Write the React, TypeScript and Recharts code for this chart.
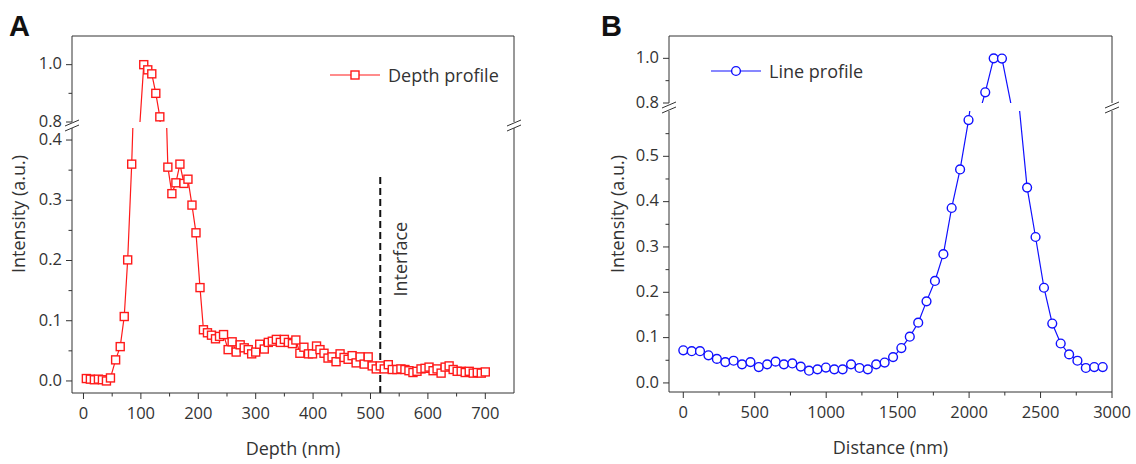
import React from "react";
import { LineChart, Line, XAxis, YAxis, ReferenceLine, Legend } from "recharts";

// Panel A: depth profile
const depthNm = [
  5, 12, 19, 26, 33, 40, 47, 56, 64, 71, 77, 84, 105, 112, 119, 126, 133, 147,
  154, 161, 168, 175, 182, 189, 196, 203, 209, 216, 223, 230, 237, 244, 252,
  259, 266, 273, 280, 287, 293, 300, 307, 315, 322, 329, 336, 343, 350, 357,
  364, 370, 377, 384, 392, 399, 406, 412, 419, 426, 433, 440, 447, 454, 461,
  468, 475, 482, 489, 496, 503, 510, 517, 524, 531, 538, 546, 553, 560, 567,
  574, 581, 588, 595, 602, 609, 616, 623, 630, 637, 644, 651, 658, 665, 672,
  679, 686, 693, 700,
];
const depthIntensity = [
  0.004, 0.003, 0.002, 0.003, 0.002, 0.0, 0.005, 0.035, 0.057, 0.107, 0.201,
  0.36, 1.0, 0.982, 0.968, 0.9, 0.818, 0.355, 0.311, 0.329, 0.36, 0.328, 0.335,
  0.292, 0.246, 0.155, 0.085, 0.08, 0.076, 0.07, 0.074, 0.077, 0.052, 0.065,
  0.048, 0.06, 0.055, 0.052, 0.045, 0.048, 0.061, 0.053, 0.064, 0.066, 0.069,
  0.064, 0.069, 0.064, 0.062, 0.068, 0.046, 0.056, 0.045, 0.045, 0.058, 0.052,
  0.046, 0.038, 0.04, 0.032, 0.045, 0.039, 0.036, 0.042, 0.03, 0.04, 0.028,
  0.04, 0.025, 0.02, 0.025, 0.02, 0.027, 0.019, 0.019, 0.02, 0.019, 0.017,
  0.014, 0.016, 0.02, 0.021, 0.023, 0.017, 0.02, 0.013, 0.023, 0.025, 0.019,
  0.016, 0.016, 0.014, 0.016, 0.013, 0.014, 0.013, 0.015,
];
const interfaceDepth = 517;

// Panel B: line profile
const distanceNm = [
  0, 59, 117, 176, 235, 294, 352, 411, 470, 528, 587, 646, 704, 763, 822, 880,
  939, 998, 1057, 1115, 1174, 1233, 1291, 1350, 1409, 1468, 1526, 1585, 1644,
  1702, 1761, 1820, 1878, 1937, 1996, 2113, 2172, 2230, 2406, 2465, 2524, 2582,
  2641, 2700, 2758, 2817, 2876, 2935,
];
const lineIntensity = [
  0.072, 0.07, 0.07, 0.061, 0.053, 0.046, 0.049, 0.041, 0.046, 0.035, 0.041,
  0.047, 0.041, 0.043, 0.036, 0.027, 0.03, 0.034, 0.03, 0.03, 0.041, 0.033,
  0.03, 0.041, 0.045, 0.057, 0.077, 0.102, 0.133, 0.18, 0.225, 0.284, 0.386,
  0.471, 0.58, 0.848, 1.0, 0.999, 0.431, 0.322, 0.21, 0.131, 0.087, 0.063,
  0.049, 0.033, 0.035, 0.035,
];

// ticks
const depthMajor = [0, 100, 200, 300, 400, 500, 600, 700];
const depthMinor = [50, 150, 250, 350, 450, 550, 650];
const distMajor = [0, 500, 1000, 1500, 2000, 2500, 3000];
const distMinor = [250, 750, 1250, 1750, 2250, 2750];
const upperMajor = [0.8, 1.0];
const upperMinor = [0.9];
const lowerAMajor = [0, 0.1, 0.2, 0.3, 0.4];
const lowerAMinor = [0.05, 0.15, 0.25, 0.35];
const lowerBMajor = [0, 0.1, 0.2, 0.3, 0.4, 0.5];
const lowerBMinor = [0.05, 0.15, 0.25, 0.35, 0.45, 0.55];

const depthData = depthNm.map((x, i) => ({ x, y: depthIntensity[i] }));
const lineData = distanceNm.map((x, i) => ({ x, y: lineIntensity[i] }));

const W = 1136;
const H = 464;
const FONT = '"Open Sans", sans-serif';
const INK = "#333";
const RED = "#ff1a1a";
const BLUE = "#1010ff";

const isIn = (arr: number[], v: number) => arr.some((m) => Math.abs(m - v) < 1e-9);

const YTick = (props: any) => {
  const { x, y, payload, majors } = props;
  const major = isIn(majors, payload.value);
  return (
    <g>
      <line x1={x - (major ? 6 : 3.5)} x2={x} y1={y} y2={y} stroke={INK} />
      {major && (
        <text x={x - 10} y={y - 1} dy="0.35em" textAnchor="end" fontSize={16.5} fill={INK} fontFamily={FONT}>
          {payload.value.toFixed(1)}
        </text>
      )}
    </g>
  );
};

const XTick = (props: any) => {
  const { x, y, payload, majors } = props;
  const major = isIn(majors, payload.value);
  return (
    <g>
      <line x1={x} x2={x} y1={y} y2={y + (major ? 6 : 3.5)} stroke={INK} />
      {major && (
        <text x={x} y={y + 26} textAnchor="middle" fontSize={16.5} fill={INK} fontFamily={FONT}>
          {payload.value}
        </text>
      )}
    </g>
  );
};

const SquareDot = (props: any) => {
  const { cx, cy } = props;
  if (cx == null || cy == null) return null;
  return <rect x={cx - 4} y={cy - 4} width={8} height={8} fill="#fff" stroke={RED} strokeWidth={1.4} />;
};

const CircleDot = (props: any) => {
  const { cx, cy } = props;
  if (cx == null || cy == null) return null;
  return <circle cx={cx} cy={cy} r={4.4} fill="#fff" stroke={BLUE} strokeWidth={1.4} />;
};

const InterfaceLabel = (props: any) => {
  const { viewBox } = props;
  if (!viewBox) return null;
  const x = viewBox.x + 27;
  const y = viewBox.y + 83;
  return (
    <text transform={`translate(${x},${y}) rotate(-90)`} textAnchor="middle" fontSize={18} fill={INK} fontFamily={FONT}>
      Interface
    </text>
  );
};

const LegendItem = ({ color, label, square }: { color: string; label: string; square?: boolean }) => (
  <div style={{ display: "flex", alignItems: "center", fontFamily: FONT, fontSize: 18, color: INK, whiteSpace: "nowrap" }}>
    <svg width={50} height={14}>
      <line x1={0} x2={50} y1={7} y2={7} stroke={color} strokeWidth={1.2} />
      {square ? (
        <rect x={21} y={3} width={8} height={8} fill="#fff" stroke={color} strokeWidth={1.4} />
      ) : (
        <circle cx={25} cy={7} r={4.4} fill="#fff" stroke={color} strokeWidth={1.4} />
      )}
    </svg>
    <span style={{ marginLeft: 8 }}>{label}</span>
  </div>
);

const layer: React.CSSProperties = { position: "absolute", left: 0, top: 0 };

// plot rectangles (px)
const A = { left: 72, right: 514, upTop: 36, upBottom: 122, loTop: 128, loBottom: 393 };
const B = { left: 669, right: 1112, upTop: 36, upBottom: 103, loTop: 111, loBottom: 392 };
const YW = 60;
const XH = 62;

const Break = ({ x, y1, y2 }: { x: number; y1: number; y2: number }) => (
  <g stroke={INK} strokeWidth={1}>
    <line x1={x - 7} y1={y1 + 3} x2={x + 7} y2={y1 - 3} />
    <line x1={x - 7} y1={y2 + 3} x2={x + 7} y2={y2 - 3} />
  </g>
);

export default function App() {
  return (
    <div style={{ position: "absolute", left: 0, top: 0, width: W, height: H, background: "#fff" }}>
      {/* A upper */}
      <div style={layer}>
        <LineChart width={W} height={H} data={depthData}
          margin={{ top: A.upTop, right: W - A.right, bottom: H - A.upBottom, left: A.left - YW }}>
          <XAxis type="number" dataKey="x" domain={[-20, 750]} hide />
          <YAxis type="number" domain={[0.8, 1.1]} allowDataOverflow width={YW}
            ticks={[...upperMajor, ...upperMinor]} interval={0} tickSize={0} tickMargin={0}
            tickLine={false} axisLine={{ stroke: INK }} tick={<YTick majors={upperMajor} />} />
          <ReferenceLine y={1.1} stroke={INK} />
          <ReferenceLine x={750} stroke={INK} />
          <Line type="linear" dataKey="y" stroke={RED} strokeWidth={1.2} dot={<SquareDot />}
            activeDot={false} isAnimationActive={false} legendType="square" name="Depth profile" />
          <Legend verticalAlign="middle" align="center" layout="horizontal"
            wrapperStyle={{ left: 330, top: 63, width: 200, height: 26 }}
            content={() => <LegendItem color={RED} label="Depth profile" square />} />
        </LineChart>
      </div>
      {/* A lower */}
      <div style={layer}>
        <LineChart width={W} height={H} data={depthData}
          margin={{ top: A.loTop, right: W - A.right, bottom: H - A.loBottom - XH, left: A.left - YW }}>
          <XAxis type="number" dataKey="x" domain={[-20, 750]} height={XH}
            ticks={[...depthMajor, ...depthMinor]} interval={0} tickSize={0} tickMargin={0}
            tickLine={false} axisLine={{ stroke: INK }} tick={<XTick majors={depthMajor} />}
            label={{ value: "Depth (nm)", position: "insideBottom", offset: 0, fontSize: 18, fill: INK, fontFamily: FONT }} />
          <YAxis type="number" domain={[-0.02, 0.42]} allowDataOverflow width={YW}
            ticks={[...lowerAMajor, ...lowerAMinor]} interval={0} tickSize={0} tickMargin={0}
            tickLine={false} axisLine={{ stroke: INK }} tick={<YTick majors={lowerAMajor} />} />
          <ReferenceLine x={750} stroke={INK} />
          <ReferenceLine segment={[{ x: interfaceDepth, y: -0.02 }, { x: interfaceDepth, y: 0.34 }]}
            stroke="#111" strokeWidth={2} strokeDasharray="7 4" label={<InterfaceLabel />} />
          <Line type="linear" dataKey="y" stroke={RED} strokeWidth={1.2} dot={<SquareDot />}
            activeDot={false} isAnimationActive={false} />
        </LineChart>
      </div>
      {/* B upper */}
      <div style={layer}>
        <LineChart width={W} height={H} data={lineData}
          margin={{ top: B.upTop, right: W - B.right, bottom: H - B.upBottom, left: B.left - YW }}>
          <XAxis type="number" dataKey="x" domain={[-100, 3000]} hide />
          <YAxis type="number" domain={[0.8, 1.1]} allowDataOverflow width={YW}
            ticks={[...upperMajor, ...upperMinor]} interval={0} tickSize={0} tickMargin={0}
            tickLine={false} axisLine={{ stroke: INK }} tick={<YTick majors={upperMajor} />} />
          <ReferenceLine y={1.1} stroke={INK} />
          <ReferenceLine x={3000} stroke={INK} />
          <Line type="linear" dataKey="y" stroke={BLUE} strokeWidth={1.2} dot={<CircleDot />}
            activeDot={false} isAnimationActive={false} name="Line profile" />
          <Legend verticalAlign="middle" align="center" layout="horizontal"
            wrapperStyle={{ left: 711, top: 59, width: 200, height: 26 }}
            content={() => <LegendItem color={BLUE} label="Line profile" />} />
        </LineChart>
      </div>
      {/* B lower */}
      <div style={layer}>
        <LineChart width={W} height={H} data={lineData}
          margin={{ top: B.loTop, right: W - B.right, bottom: H - B.loBottom - XH, left: B.left - YW }}>
          <XAxis type="number" dataKey="x" domain={[-100, 3000]} height={XH}
            ticks={[...distMajor, ...distMinor]} interval={0} tickSize={0} tickMargin={0}
            tickLine={false} axisLine={{ stroke: INK }} tick={<XTick majors={distMajor} />}
            label={{ value: "Distance (nm)", position: "insideBottom", offset: 0, fontSize: 18, fill: INK, fontFamily: FONT }} />
          <YAxis type="number" domain={[-0.02, 0.6]} allowDataOverflow width={YW}
            ticks={[...lowerBMajor, ...lowerBMinor]} interval={0} tickSize={0} tickMargin={0}
            tickLine={false} axisLine={{ stroke: INK }} tick={<YTick majors={lowerBMajor} />} />
          <ReferenceLine x={3000} stroke={INK} />
          <Line type="linear" dataKey="y" stroke={BLUE} strokeWidth={1.2} dot={<CircleDot />}
            activeDot={false} isAnimationActive={false} />
        </LineChart>
      </div>
      {/* decorations: panel letters, y titles, axis breaks */}
      <svg width={W} height={H} style={{ ...layer, pointerEvents: "none" }}>
        <text x={9} y={36} fontSize={29} fontWeight="bold" fontFamily='"Liberation Sans", Arial, sans-serif' fill="#111">A</text>
        <text x={601} y={36} fontSize={29} fontWeight="bold" fontFamily='"Liberation Sans", Arial, sans-serif' fill="#111">B</text>
        <text transform="translate(25,214) rotate(-90)" textAnchor="middle" fontSize={18} fill={INK} fontFamily={FONT}>Intensity (a.u.)</text>
        <text transform="translate(624,214) rotate(-90)" textAnchor="middle" fontSize={18} fill={INK} fontFamily={FONT}>Intensity (a.u.)</text>
        <Break x={A.left} y1={123} y2={128} />
        <Break x={A.right} y1={123} y2={128} />
        <Break x={B.left} y1={105} y2={110} />
        <Break x={B.right} y1={105} y2={110} />
      </svg>
    </div>
  );
}
